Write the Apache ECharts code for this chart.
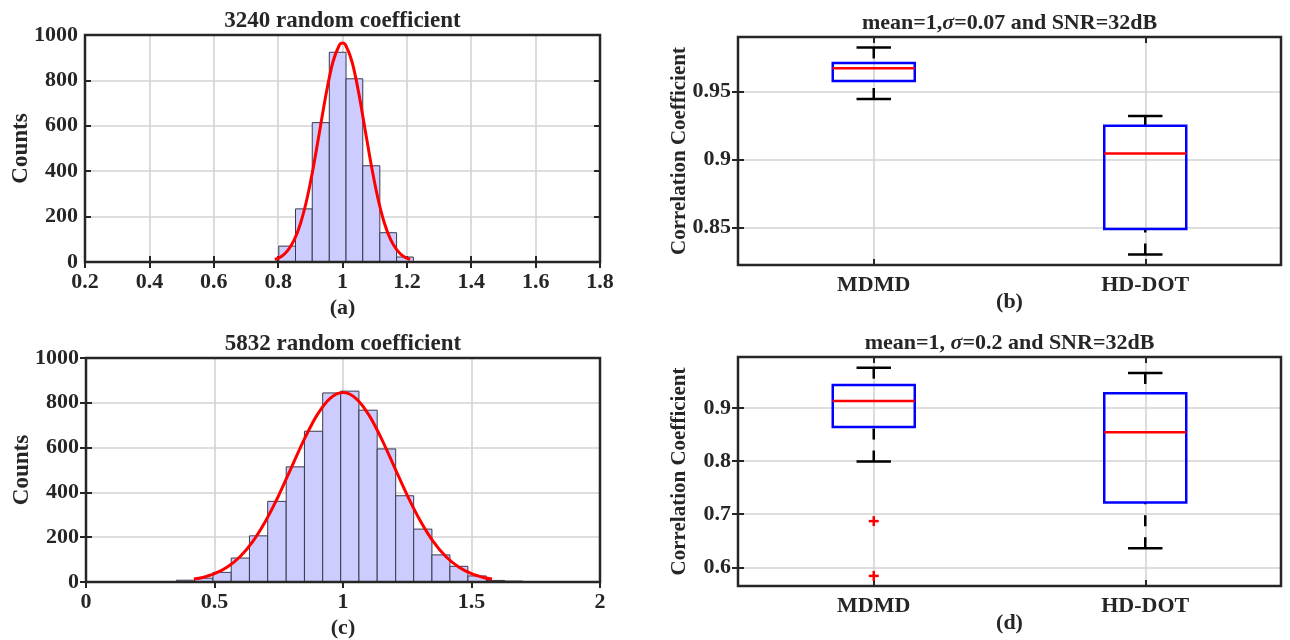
<!DOCTYPE html>
<html>
<head>
<meta charset="utf-8">
<title>Random coefficients and correlation coefficients</title>
<script src="https://cdn.jsdelivr.net/npm/echarts@6/dist/echarts.min.js"></script>
<style>
html, body { margin: 0; padding: 0; background: #fff; }
#main { width: 1290px; height: 640px; }
</style>
</head>
<body>
<div id="main"></div>
<script>
// (a) histogram of 3240 random coefficients
var histA_edges = [0.697, 0.749, 0.802, 0.854, 0.906, 0.959, 1.011, 1.063, 1.116, 1.168, 1.220];
var histA_counts = [2, 1, 70, 234, 614, 924, 807, 424, 129, 22];
var fitA_x = [0.79, 0.81, 0.83, 0.85, 0.87, 0.89, 0.91, 0.93, 0.95, 0.97, 0.99, 1.00, 1.01, 1.03, 1.05, 1.07, 1.09, 1.11, 1.13, 1.15, 1.17, 1.19, 1.21];
var fitA_y = [11, 24, 51, 97, 172, 281, 422, 585, 748, 880, 955, 965, 955, 880, 748, 585, 422, 281, 172, 97, 51, 24, 11];

// (c) histogram of 5832 random coefficients
var histC_edges = [0.281, 0.352, 0.423, 0.494, 0.565, 0.636, 0.707, 0.779, 0.850, 0.921, 0.991, 1.062, 1.133, 1.205, 1.275, 1.346, 1.416, 1.486, 1.558, 1.629, 1.700];
var histC_counts = [2, 8, 17, 43, 107, 206, 360, 514, 673, 844, 852, 767, 594, 385, 236, 121, 70, 27, 7, 4];
var fitC_x = [0.42, 0.45, 0.50, 0.55, 0.60, 0.65, 0.70, 0.75, 0.80, 0.85, 0.90, 0.95, 1.00, 1.05, 1.10, 1.15, 1.20, 1.25, 1.30, 1.35, 1.40, 1.45, 1.50, 1.55, 1.58];
var fitC_y = [13, 19, 37, 67, 114, 183, 275, 387, 513, 639, 747, 820, 846, 820, 747, 639, 513, 387, 275, 183, 114, 67, 37, 19, 13];

// boxplots: [lower whisker, q1, median, q3, upper whisker]
var boxCategories = ['MDMD', 'HD-DOT'];
var boxB = [[0.9444, 0.9576, 0.9671, 0.9708, 0.9823], [0.8302, 0.8488, 0.9044, 0.9247, 0.9320]];
var boxD = [[0.799, 0.864, 0.913, 0.943, 0.9756], [0.636, 0.722, 0.854, 0.9275, 0.9656]];
var outliersD = [[0, 0.687], [0, 0.584]]; // category index, value
var ticksB = [0.85, 0.9, 0.95];
var ticksD = [0.6, 0.7, 0.8, 0.9];

var FONT = 'Liberation Serif';
var INK = '#262626';
var GRIDLINE = '#d3d3d3';
var BOX_HALF = 0.151;

var chart = echarts.init(document.getElementById('main'));

var option = {
    animation: false,
    backgroundColor: '#fff',
    title: [],
    grid: [],
    xAxis: [],
    yAxis: [],
    series: []
};

function labelStyle(size) {
    return {fontFamily: FONT, fontWeight: 'bold', fontSize: size, color: INK};
}

function plainNumber(v) {
    return String(v);
}

// one panel: grid + bottom/left axes with labels + top/right axes only for ticks
function addPanel(p) {
    option.grid.push({
        left: p.left, top: p.top, width: p.width, height: p.height,
        show: true, borderColor: INK, borderWidth: 2.5,
        backgroundColor: 'rgba(0,0,0,0)', z: 4
    });
    var gi = option.grid.length - 1;

    option.title.push({
        text: p.title,
        left: p.left + p.width / 2,
        top: p.top - 25,
        textAlign: 'center',
        padding: 0,
        textStyle: {
            fontFamily: FONT, fontWeight: 'bold', fontSize: p.titleSize, color: INK,
            rich: {i: {fontFamily: FONT, fontStyle: 'italic', fontWeight: 'bold', fontSize: p.titleSize, color: INK}}
        }
    });

    var tick = {show: true, inside: true, length: 6, lineStyle: {color: INK, width: 2}};
    var xMain = {
        type: 'value', gridIndex: gi, min: p.xMin, max: p.xMax,
        name: p.xName, nameLocation: 'middle', nameGap: p.xNameGap, nameMoveOverlap: false,
        nameTextStyle: labelStyle(22),
        axisLine: {show: false},
        axisTick: tick,
        axisLabel: labelStyle(22),
        splitLine: {show: true, lineStyle: {color: GRIDLINE, width: 1.6}}
    };
    xMain.axisLabel.margin = 9;
    xMain.axisLabel.formatter = p.xFormatter || plainNumber;
    var xTop = {
        type: 'value', gridIndex: gi, position: 'top', min: p.xMin, max: p.xMax,
        axisLine: {show: false}, axisTick: tick, axisLabel: {show: false}, splitLine: {show: false}
    };
    if (p.xInterval) {
        xMain.interval = p.xInterval;
        xTop.interval = p.xInterval;
    }
    if (p.xTicks) {
        xMain.axisTick = echarts.util.merge({customValues: p.xTicks}, tick);
        xMain.axisLabel.customValues = p.xTicks;
        xTop.axisTick = echarts.util.merge({customValues: p.xTicks}, tick);
    }

    var yMain = {
        type: 'value', gridIndex: gi, min: p.yMin, max: p.yMax,
        name: p.yName, nameLocation: 'middle', nameGap: p.yNameGap, nameMoveOverlap: false,
        nameTextStyle: labelStyle(p.yNameSize),
        axisLine: {show: false},
        axisTick: tick,
        axisLabel: labelStyle(22),
        splitLine: {show: true, lineStyle: {color: GRIDLINE, width: 1.6}}
    };
    yMain.axisLabel.margin = 7;
    yMain.axisLabel.formatter = plainNumber;
    var yRight = {
        type: 'value', gridIndex: gi, position: 'right', min: p.yMin, max: p.yMax,
        axisLine: {show: false}, axisTick: tick, axisLabel: {show: false}, splitLine: {show: false}
    };
    if (p.yInterval) {
        yMain.interval = p.yInterval;
        yRight.interval = p.yInterval;
    }
    if (p.yTicks) {
        yMain.axisTick = echarts.util.merge({customValues: p.yTicks}, tick);
        yMain.axisLabel.customValues = p.yTicks;
        yRight.axisTick = echarts.util.merge({customValues: p.yTicks}, tick);
    }

    option.xAxis.push(xMain);
    var xi = option.xAxis.length - 1;
    option.xAxis.push(xTop);
    option.yAxis.push(yMain);
    var yi = option.yAxis.length - 1;
    option.yAxis.push(yRight);
    return {x: xi, y: yi};
}

function histItem(params, api) {
    var p0 = api.coord([api.value(0), api.value(2)]);
    var p1 = api.coord([api.value(1), 0]);
    return {
        type: 'rect',
        shape: {x: p0[0], y: p0[1], width: p1[0] - p0[0], height: p1[1] - p0[1]},
        style: {fill: '#ccccff', stroke: '#3a3a4c', lineWidth: 1}
    };
}

function addHistogram(ax, edges, counts, fitX, fitY) {
    var bins = [];
    for (var i = 0; i < counts.length; i++) {
        bins.push([edges[i], edges[i + 1], counts[i]]);
    }
    option.series.push({
        type: 'custom', xAxisIndex: ax.x, yAxisIndex: ax.y,
        renderItem: histItem, encode: {x: [0, 1], y: 2}, data: bins
    });
    var fit = [];
    for (var j = 0; j < fitX.length; j++) {
        fit.push([fitX[j], fitY[j]]);
    }
    option.series.push({
        type: 'line', xAxisIndex: ax.x, yAxisIndex: ax.y, data: fit,
        smooth: 0.3, showSymbol: false, z: 3,
        lineStyle: {color: '#ff0000', width: 3}
    });
}

function boxItem(params, api) {
    var x = api.value(0);
    var lo = api.coord([x, api.value(1)]);
    var q1 = api.coord([x, api.value(2)]);
    var md = api.coord([x, api.value(3)]);
    var q3 = api.coord([x, api.value(4)]);
    var hi = api.coord([x, api.value(5)]);
    var half = api.size([BOX_HALF, 0])[0];
    var cap = half * 0.42;
    var cx = md[0];
    var dashed = {stroke: '#000', lineWidth: 2.5, lineDash: [11, 11]};
    var solid = {stroke: '#000', lineWidth: 2.5};
    return {
        type: 'group',
        children: [
            {type: 'line', shape: {x1: cx, y1: hi[1], x2: cx, y2: q3[1]}, style: dashed},
            {type: 'line', shape: {x1: cx, y1: lo[1], x2: cx, y2: q1[1]}, style: dashed},
            {type: 'line', shape: {x1: cx - cap, y1: hi[1], x2: cx + cap, y2: hi[1]}, style: solid},
            {type: 'line', shape: {x1: cx - cap, y1: lo[1], x2: cx + cap, y2: lo[1]}, style: solid},
            {type: 'rect', shape: {x: cx - half, y: q3[1], width: 2 * half, height: q1[1] - q3[1]},
                style: {fill: 'none', stroke: '#0000ff', lineWidth: 2.5}},
            {type: 'line', shape: {x1: cx - half, y1: md[1], x2: cx + half, y2: md[1]},
                style: {stroke: '#ff0000', lineWidth: 2.5}}
        ]
    };
}

function plusItem(params, api) {
    var c = api.coord([api.value(0), api.value(1)]);
    var s = 5;
    var st = {stroke: '#ff0000', lineWidth: 2.5};
    return {
        type: 'group',
        children: [
            {type: 'line', shape: {x1: c[0] - s, y1: c[1], x2: c[0] + s, y2: c[1]}, style: st},
            {type: 'line', shape: {x1: c[0], y1: c[1] - s, x2: c[0], y2: c[1] + s}, style: st}
        ]
    };
}

function addBoxes(ax, stats, outliers) {
    var rows = [];
    for (var i = 0; i < stats.length; i++) {
        rows.push([i + 0.5].concat(stats[i]));
    }
    option.series.push({
        type: 'custom', xAxisIndex: ax.x, yAxisIndex: ax.y,
        renderItem: boxItem, encode: {x: 0, y: [1, 2, 3, 4, 5]}, data: rows
    });
    if (outliers) {
        var pts = [];
        for (var j = 0; j < outliers.length; j++) {
            pts.push([outliers[j][0] + 0.5, outliers[j][1]]);
        }
        option.series.push({
            type: 'custom', xAxisIndex: ax.x, yAxisIndex: ax.y,
            renderItem: plusItem, encode: {x: 0, y: 1}, data: pts
        });
    }
}

function catName(v) {
    return boxCategories[Math.round(v - 0.5)];
}

var axA = addPanel({
    left: 85, top: 35, width: 515, height: 227,
    title: '3240 random coefficient', titleSize: 23,
    xMin: 0.2, xMax: 1.8, xInterval: 0.2, xName: '(a)', xNameGap: 35,
    yMin: 0, yMax: 1000, yInterval: 200, yName: 'Counts', yNameGap: 52, yNameSize: 23
});
addHistogram(axA, histA_edges, histA_counts, fitA_x, fitA_y);

var axC = addPanel({
    left: 86, top: 358, width: 514, height: 226,
    title: '5832 random coefficient', titleSize: 23,
    xMin: 0, xMax: 2, xInterval: 0.5, xName: '(c)', xNameGap: 35,
    yMin: 0, yMax: 1000, yInterval: 200, yName: 'Counts', yNameGap: 52, yNameSize: 23
});
addHistogram(axC, histC_edges, histC_counts, fitC_x, fitC_y);

var axB = addPanel({
    left: 738, top: 37, width: 543, height: 228,
    title: 'mean=1,{i|σ}=0.07 and SNR=32dB', titleSize: 22,
    xMin: 0, xMax: 2, xTicks: [0.5, 1.5], xFormatter: catName, xName: '(b)', xNameGap: 26,
    yMin: 0.8224, yMax: 0.990, yTicks: ticksB, yName: 'Correlation Coefficient', yNameGap: 48, yNameSize: 21
});
addBoxes(axB, boxB, null);

var axD = addPanel({
    left: 738, top: 357, width: 543, height: 229,
    title: 'mean=1, {i|σ}=0.2 and SNR=32dB', titleSize: 22,
    xMin: 0, xMax: 2, xTicks: [0.5, 1.5], xFormatter: catName, xName: '(d)', xNameGap: 26,
    yMin: 0.565, yMax: 0.9956, yTicks: ticksD, yName: 'Correlation Coefficient', yNameGap: 48, yNameSize: 21
});
addBoxes(axD, boxD, outliersD);

chart.setOption(option);
</script>
</body>
</html>
